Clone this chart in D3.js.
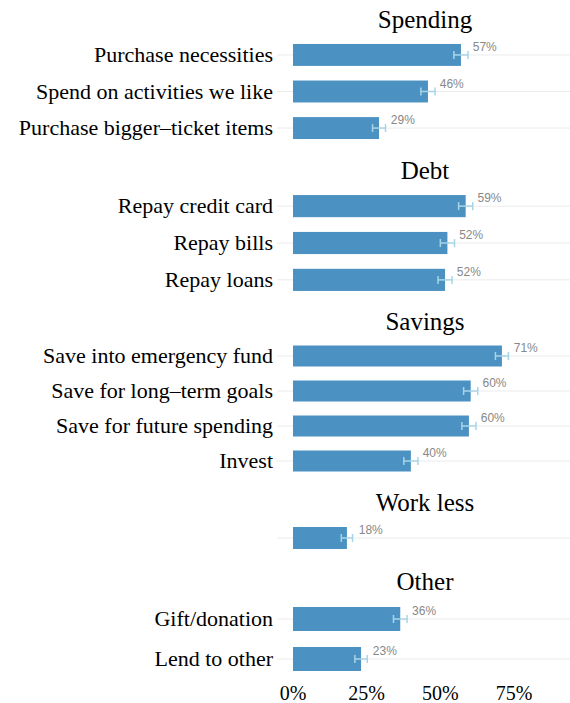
<!DOCTYPE html>
<html>
<head>
<meta charset="utf-8">
<script src="https://cdn.jsdelivr.net/npm/d3@7"></script>
<style>
  html, body { margin: 0; padding: 0; background: #fff; }
  svg { display: block; }
</style>
</head>
<body>
<div id="chart"></div>
<script>
// ---- data ----
const groups = ["Spending", "Debt", "Savings", "Work less", "Other"];
const categories = [
  ["Purchase necessities", "Spend on activities we like", "Purchase bigger\u2013ticket items"],
  ["Repay credit card", "Repay bills", "Repay loans"],
  ["Save into emergency fund", "Save for long\u2013term goals", "Save for future spending", "Invest"],
  [""],
  ["Gift/donation", "Lend to other"]
];
const shares = [
  [0.570, 0.458, 0.292],
  [0.586, 0.524, 0.516],
  [0.709, 0.603, 0.597, 0.400],
  [0.183],
  [0.364, 0.231]
];
const errors = [
  [0.024, 0.024, 0.022],
  [0.024, 0.024, 0.024],
  [0.022, 0.024, 0.024, 0.024],
  [0.019],
  [0.023, 0.021]
];
const xTicks = [0, 0.25, 0.5, 0.75];

// ---- layout ----
const W = 570, H = 703;
const panelTops = [33, 184, 335, 516, 595];
const panelBottoms = [150, 302, 482, 560, 683];
const xLeft = 280, xRight = 570;

const svg = d3.select("#chart").append("svg")
  .attr("width", W).attr("height", H);

const x = d3.scaleLinear().domain([-0.0441, 0.940]).range([xLeft, xRight]);
const fmt = d3.format(".0%");

const barColor = "#4b92c3";
const errColor = "#a8d5e6";
const serif = "'Liberation Serif', 'Times New Roman', serif";
const sans = "'Liberation Sans', Arial, sans-serif";

groups.forEach((g, gi) => {
  const cats = categories[gi];
  const y = d3.scaleBand()
    .domain(cats)
    .range([panelTops[gi], panelBottoms[gi]])
    .paddingInner(0.4)
    .paddingOuter(0.3);
  const rows = cats.map((c, i) => ({ c, v: shares[gi][i], e: errors[gi][i] }));
  const gp = svg.append("g");

  // title
  gp.append("text")
    .attr("x", (xLeft + xRight) / 2)
    .attr("y", panelTops[gi] - 5)
    .attr("text-anchor", "middle")
    .attr("font-family", serif)
    .attr("font-size", 25)
    .attr("fill", "#000")
    .text(g);

  // gridlines
  gp.selectAll("line.grid").data(rows).join("line")
    .attr("x1", xLeft - 3).attr("x2", xRight)
    .attr("y1", d => y(d.c) + y.bandwidth() / 2)
    .attr("y2", d => y(d.c) + y.bandwidth() / 2)
    .attr("stroke", "#ebebeb").attr("stroke-width", 1);

  // category labels
  gp.selectAll("text.cat").data(rows).join("text")
    .attr("x", 273)
    .attr("y", d => y(d.c) + y.bandwidth() / 2 + 7)
    .attr("text-anchor", "end")
    .attr("font-family", serif)
    .attr("font-size", 22)
    .attr("fill", "#000")
    .text(d => d.c);

  // bars
  gp.selectAll("rect").data(rows).join("rect")
    .attr("x", x(0))
    .attr("y", d => y(d.c))
    .attr("width", d => x(d.v) - x(0))
    .attr("height", y.bandwidth())
    .attr("fill", barColor);

  // error bars
  const eb = gp.selectAll("g.eb").data(rows).join("g");
  eb.append("line")
    .attr("x1", d => x(d.v - d.e)).attr("x2", d => x(d.v + d.e))
    .attr("y1", d => y(d.c) + y.bandwidth() / 2)
    .attr("y2", d => y(d.c) + y.bandwidth() / 2)
    .attr("stroke", errColor).attr("stroke-width", 1.5);
  [-1, 1].forEach(s => {
    eb.append("line")
      .attr("x1", d => x(d.v + s * d.e)).attr("x2", d => x(d.v + s * d.e))
      .attr("y1", d => y(d.c) + y.bandwidth() / 2 - 4)
      .attr("y2", d => y(d.c) + y.bandwidth() / 2 + 4)
      .attr("stroke", errColor).attr("stroke-width", 1.5);
  });

  // value labels
  gp.selectAll("text.val").data(rows).join("text")
    .attr("x", d => x(d.v + 0.04))
    .attr("y", d => y(d.c) + y.bandwidth() / 2 - 4)
    .attr("font-family", sans)
    .attr("font-size", 12)
    .attr("fill", "#888")
    .text(d => fmt(d.v));
});

// x axis tick labels
svg.append("g").selectAll("text").data(xTicks).join("text")
  .attr("x", d => x(d))
  .attr("y", 700)
  .attr("text-anchor", "middle")
  .attr("font-family", serif)
  .attr("font-size", 20)
  .attr("fill", "#000")
  .text(d => fmt(d));
</script>
</body>
</html>
